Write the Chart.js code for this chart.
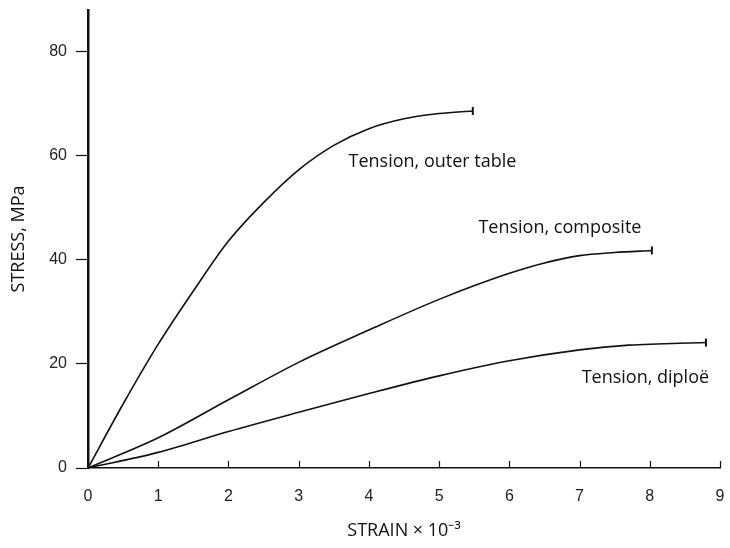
<!DOCTYPE html>
<html>
<head>
<meta charset="utf-8">
<script src="https://cdn.jsdelivr.net/npm/chart.js@4/dist/chart.umd.min.js"></script>
<style>
  html, body { margin: 0; padding: 0; background: #fff; }
  #wrap { width: 730px; height: 548px; }
</style>
</head>
<body>
<div id="wrap"><canvas id="stressChart"></canvas></div>
<script>
// values (strain x 10^-3, stress MPa)
var outerX = [0, 0.5, 1, 1.5, 2, 2.5, 3, 3.5, 4, 4.5, 5, 5.48];
var outerY = [0, 12.3, 23.8, 34, 43.6, 51, 57.3, 62, 65.2, 67.1, 68.1, 68.6];
var compositeX = [0, 1, 2, 3, 4, 5, 6, 6.5, 7, 7.5, 8.03];
var compositeY = [0, 5.8, 13.1, 20.3, 26.5, 32.4, 37.4, 39.4, 40.8, 41.4, 41.8];
var diploeX = [0, 1, 2, 3, 4, 5, 6, 7, 7.7, 8.8];
var diploeY = [0, 3, 7, 10.7, 14.3, 17.7, 20.6, 22.7, 23.6, 24.1];

var xTicks = [0, 1, 2, 3, 4, 5, 6, 7, 8, 9];
var yTicks = [0, 20, 40, 60, 80];

// curve labels: text, anchor x, anchor y (data units)
var labelText = ["Tension, outer table", "Tension, composite", "Tension, diploë"];
var labelX = [3.71, 5.56, 7.03];
var labelY = [58.8, 46.2, 17.3];

function pts(xs, ys) {
    return xs.map(function (x, i) { return { x: x, y: ys[i] }; });
}

function series(label, xs, ys) {
    return {
        label: label,
        data: pts(xs, ys),
        borderColor: "#111",
        borderWidth: 1.6,
        fill: false,
        cubicInterpolationMode: "monotone",
        pointStyle: "line",
        rotation: 90,
        pointBorderColor: "#111",
        pointBorderWidth: 2,
        pointRadius: function (c) { return c.dataIndex === xs.length - 1 ? 4 : 0; }
    };
}

var font = "'Open Sans', 'Liberation Sans', sans-serif";
var tickFont = "'Liberation Sans', sans-serif";

var curveLabels = {
    id: "curveLabels",
    afterDatasetsDraw: function (chart) {
        var c = chart.ctx, xs = chart.scales.x, ys = chart.scales.y;
        c.save();
        c.fillStyle = "#111";
        c.font = "18px " + font;
        c.textBaseline = "middle";
        c.textAlign = "left";
        labelText.forEach(function (t, i) {
            c.fillText(t, xs.getPixelForValue(labelX[i]), ys.getPixelForValue(labelY[i]));
        });
        // small inward ticks on the strain axis
        c.strokeStyle = "#111";
        c.lineWidth = 1.2;
        var b = xs.top;
        xTicks.slice(1).forEach(function (v) {
            var px = Math.round(xs.getPixelForValue(v)) + 0.5;
            c.beginPath();
            c.moveTo(px, b);
            c.lineTo(px, b - 7);
            c.stroke();
        });
        c.restore();
    }
};

new Chart(document.getElementById("stressChart"), {
    type: "line",
    data: {
        datasets: [
            series("Tension, outer table", outerX, outerY),
            series("Tension, composite", compositeX, compositeY),
            series("Tension, diploë", diploeX, diploeY)
        ]
    },
    options: {
        responsive: true,
        maintainAspectRatio: false,
        animation: false,
        layout: { padding: { top: 10, right: 10, left: 0, bottom: 0 } },
        plugins: {
            legend: { display: false },
            tooltip: { enabled: false }
        },
        scales: {
            x: {
                type: "linear",
                min: 0,
                max: 9,
                afterFit: function (s) { s.height = 80; s.paddingRight = 0; s.paddingLeft = 0; },
                afterBuildTicks: function (s) { s.ticks = xTicks.map(function (v) { return { value: v }; }); },
                border: { color: "#111", width: 1.5 },
                grid: { drawOnChartArea: false, drawTicks: false },
                ticks: {
                    color: "#222",
                    padding: 19,
                    maxRotation: 0,
                    font: { family: tickFont, size: 16 }
                },
                title: {
                    display: true,
                    text: "STRAIN × 10⁻³",
                    color: "#111",
                    padding: { top: 0, bottom: 6 },
                    font: { family: font, size: 18 }
                }
            },
            y: {
                min: 0,
                max: 88,
                afterFit: function (s) { s.width = 88; s.paddingTop = 0; s.paddingBottom = 0; },
                afterBuildTicks: function (s) { s.ticks = yTicks.map(function (v) { return { value: v }; }); },
                border: { color: "#111", width: 2.5 },
                grid: { drawOnChartArea: false, drawTicks: true, tickLength: 12, color: "#111", tickWidth: 1.2 },
                ticks: {
                    color: "#222",
                    padding: 9,
                    font: { family: tickFont, size: 16 }
                },
                title: {
                    display: true,
                    text: "STRESS, MPa",
                    color: "#111",
                    padding: { top: 8, bottom: 0 },
                    font: { family: font, size: 18 }
                }
            }
        }
    },
    plugins: [curveLabels]
});
</script>
</body>
</html>
